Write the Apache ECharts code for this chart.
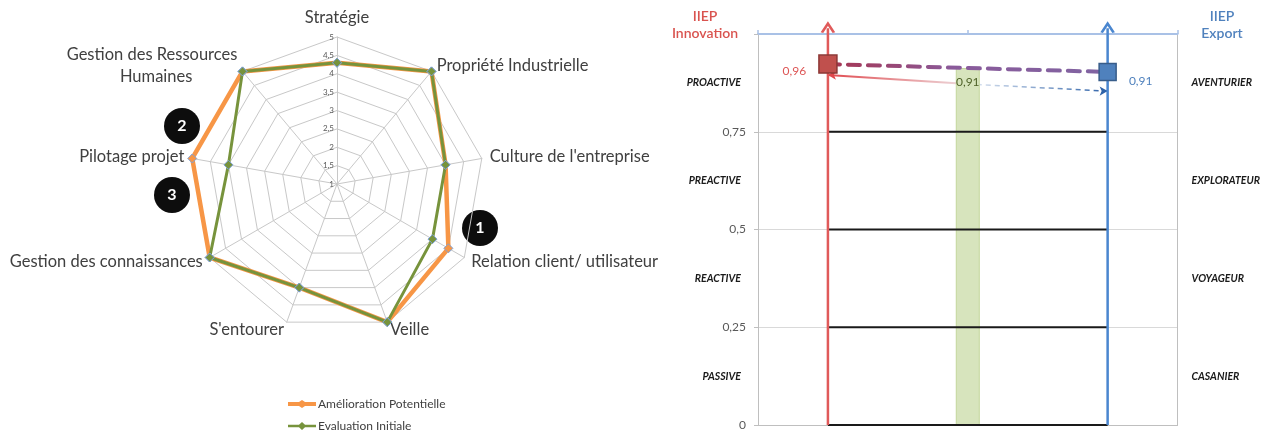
<!DOCTYPE html>
<html>
<head>
<meta charset="utf-8">
<title>IIEP</title>
<script src="https://cdn.jsdelivr.net/npm/echarts@6/dist/echarts.min.js"></script>
<style>
  html, body { margin: 0; padding: 0; background: #fff; }
  #chart { width: 1263px; height: 432px; }
</style>
</head>
<body>
<div id="chart"></div>
<script>
// --- radar : axes dans le sens horaire, à partir du haut
const radarAxes = ['Stratégie', 'Propriété Industrielle', "Culture de l'entreprise", 'Relation client/ utilisateur',
  'Veille', "S'entourer", 'Gestion des connaissances', 'Pilotage projet', 'Gestion des Ressources\nHumaines']
const radarMin = 1
const radarMax = 5
const ameliorationPotentielle = [4.3, 5, 4, 4.5, 5, 4, 5, 5, 5]
const evaluationInitiale = [4.3, 5, 4, 4, 5, 4, 5, 4, 5]

// --- positionnement IIEP
const positions = ['IIEP Innovation', 'Bilan', 'IIEP Export']
const bandLevels = [0, 0.25, 0.5, 0.75]
const innovationProfiles = ['PASSIVE', 'REACTIVE', 'PREACTIVE', 'PROACTIVE']
const exportProfiles = ['CASANIER', 'VOYAGEUR', 'EXPLORATEUR', 'AVENTURIER']
const innovationScore = 0.923
const innovationLabel = '0,96'
const exportScore = 0.903
const exportLabel = '0,91'
const bilanScore = 0.913
const bilanLabel = '0,91'
const trend = [0.895, 0.872, 0.854]
const arrowTop = 1.015

const font = 'Lato, "Open Sans", sans-serif'
const fmt = v => String(v).replace('.', ',')
// echarts tourne dans le sens anti-horaire
const ccw = arr => [arr[0]].concat(arr.slice(1).reverse())

const profileLabel = names => v => {
  const k = Math.round(v * 8)
  return k % 2 === 1 ? names[(k - 1) / 2] : ''
}

const chart = echarts.init(document.getElementById('chart'))

const indicators = ccw(radarAxes).map((name, i) => {
  const ind = { name: name, min: radarMin, max: radarMax }
  if (i === 0) {
    ind.axisLabel = { show: true, fontSize: 8, color: '#595959', fontFamily: font, margin: 3, formatter: fmt }
  }
  return ind
})

const legendIcon = h => 'path://M0,' + (4 - h / 2) + 'L11,' + (4 - h / 2) + 'L14,0L17,' + (4 - h / 2) + 'L28,' + (4 - h / 2) +
  'L28,' + (4 + h / 2) + 'L17,' + (4 + h / 2) + 'L14,8L11,' + (4 + h / 2) + 'L0,' + (4 + h / 2) + 'Z'

const profileText = {
  fontSize: 10.5, fontStyle: 'italic', fontWeight: 'bold', color: '#1a1a1a', fontFamily: font
}

const option = {
  backgroundColor: '#fff',
  animation: false,
  textStyle: { fontFamily: font },
  legend: {
    orient: 'vertical',
    left: 288,
    top: 398,
    padding: 0,
    itemGap: 10,
    itemWidth: 28,
    itemHeight: 8,
    itemStyle: { borderWidth: 0 },
    textStyle: { fontSize: 12, color: '#404040', fontFamily: font, padding: [0, 0, 0, -3] },
    data: [
      { name: 'Amélioration Potentielle', icon: legendIcon(4) },
      { name: 'Evaluation Initiale', icon: legendIcon(2.5) }
    ]
  },
  radar: {
    center: [337, 184],
    radius: 147,
    startAngle: 90,
    shape: 'polygon',
    splitNumber: 8,
    axisNameGap: 8,
    axisName: {
      color: '#404040', fontSize: 16.5, fontFamily: font, lineHeight: 22,
      formatter: name => {
        const parts = name.split('\n')
        return parts.length > 1 ? parts[0] + '\n{h|' + parts[1] + '}' : name
      },
      rich: { h: { color: '#404040', fontSize: 16.5, fontFamily: font, lineHeight: 22, padding: [0, 45, 0, 0] } }
    },
    splitLine: { lineStyle: { color: '#c8c8c8', width: 1 } },
    splitArea: { show: false },
    axisLine: { lineStyle: { color: '#c8c8c8', width: 1 } },
    axisLabel: { show: false },
    indicator: indicators
  },
  grid: { left: 758, right: 84, top: 34, bottom: 7, containLabel: false },
  xAxis: [
    {
      type: 'category',
      data: positions,
      boundaryGap: true,
      axisLine: { onZero: false, lineStyle: { color: '#bfbfbf' } },
      axisTick: { show: false },
      axisLabel: { show: false }
    },
    {
      type: 'category',
      position: 'top',
      data: ['', ''],
      boundaryGap: true,
      axisLine: { onZero: false, lineStyle: { color: '#a9c1e6', width: 2 } },
      axisTick: { show: true, length: 4, lineStyle: { color: '#a9c1e6', width: 1.5 } },
      axisLabel: { show: false }
    }
  ],
  yAxis: [
    {
      type: 'value',
      min: 0,
      max: 1,
      interval: 0.25,
      axisLine: { show: true, onZero: false, lineStyle: { color: '#bfbfbf' } },
      axisTick: { show: true, length: 4, lineStyle: { color: '#bfbfbf' } },
      splitLine: { lineStyle: { color: '#d9d9d9' } },
      axisLabel: {
        margin: 12, fontSize: 12, color: '#595959', fontFamily: font,
        formatter: v => (v >= 1 ? '' : fmt(v))
      }
    },
    {
      type: 'value',
      position: 'left',
      offset: 0,
      min: 0,
      max: 1,
      interval: 0.125,
      axisLine: { show: false },
      axisTick: { show: false },
      splitLine: { show: false },
      axisLabel: Object.assign({ margin: 17, align: 'right', formatter: profileLabel(innovationProfiles) }, profileText)
    },
    {
      type: 'value',
      position: 'right',
      offset: 0,
      min: 0,
      max: 1,
      interval: 0.125,
      axisLine: { show: true, onZero: false, lineStyle: { color: '#bfbfbf' } },
      axisTick: { show: false },
      splitLine: { show: false },
      axisLabel: Object.assign({ margin: 14, align: 'left', formatter: profileLabel(exportProfiles) }, profileText)
    }
  ],
  graphic: [
    { type: 'circle', shape: { cx: 480, cy: 228, r: 18 }, style: { fill: '#0d0d0d' } },
    { type: 'circle', shape: { cx: 182, cy: 126, r: 18 }, style: { fill: '#0d0d0d' } },
    { type: 'circle', shape: { cx: 172, cy: 195, r: 18 }, style: { fill: '#0d0d0d' } },
    { type: 'text', x: 480, y: 228, style: { text: '1', fill: '#fff', fontSize: 16, fontWeight: 'bold', fontFamily: font, textAlign: 'center', textVerticalAlign: 'middle' } },
    { type: 'text', x: 182, y: 126, style: { text: '2', fill: '#fff', fontSize: 16, fontWeight: 'bold', fontFamily: font, textAlign: 'center', textVerticalAlign: 'middle' } },
    { type: 'text', x: 172, y: 195, style: { text: '3', fill: '#fff', fontSize: 16, fontWeight: 'bold', fontFamily: font, textAlign: 'center', textVerticalAlign: 'middle' } },
    { type: 'text', x: 705, y: 8, style: { text: 'IIEP\nInnovation', fill: '#d9534f', fontSize: 14, fontWeight: 600, lineHeight: 17, fontFamily: font, textAlign: 'center' } },
    { type: 'text', x: 1222, y: 8, style: { text: 'IIEP\nExport', fill: '#4f81bd', fontSize: 14, fontWeight: 600, lineHeight: 17, fontFamily: font, textAlign: 'center' } }
  ],
  series: [
    {
      type: 'radar',
      symbol: 'diamond',
      symbolSize: 9,
      data: [
        {
          name: 'Amélioration Potentielle',
          value: ccw(ameliorationPotentielle),
          lineStyle: { color: '#f79646', width: 4.5 },
          itemStyle: { color: '#f79646', borderColor: '#7da2d8', borderWidth: 1 }
        },
        {
          name: 'Evaluation Initiale',
          value: ccw(evaluationInitiale),
          lineStyle: { color: '#77933c', width: 3 },
          itemStyle: { color: '#77933c', borderColor: '#7da2d8', borderWidth: 1 }
        }
      ]
    },
    // trait fin : innovation -> bilan
    {
      type: 'line',
      z: 1,
      symbol: 'none',
      data: [
        { value: [0, trend[0]], symbol: 'arrow', symbolSize: [7, 8], symbolRotate: 90, itemStyle: { color: '#e0474c' } },
        [1, trend[1]]
      ],
      lineStyle: {
        width: 2,
        color: new echarts.graphic.LinearGradient(0, 0, 1, 0, [
          { offset: 0, color: '#e0474c' },
          { offset: 1, color: '#eee0e3' }
        ])
      }
    },
    // trait pointillé : bilan -> export
    {
      type: 'line',
      z: 1,
      symbol: 'none',
      data: [
        [1, trend[1]],
        { value: [2, trend[2]], symbol: 'arrow', symbolSize: [7, 8], symbolRotate: -90, itemStyle: { color: '#2e62a8' } }
      ],
      lineStyle: {
        width: 1.5,
        type: [5, 4],
        color: new echarts.graphic.LinearGradient(0, 0, 1, 0, [
          { offset: 0, color: '#e4eaf4' },
          { offset: 1, color: '#2e62a8' }
        ])
      }
    },
    {
      type: 'bar',
      z: 2,
      barWidth: 24,
      data: ['-', bilanScore, '-'],
      itemStyle: { color: '#d7e4bd', borderColor: '#c3d69b', borderWidth: 1 },
      label: {
        show: true, position: 'insideTop', distance: 8, color: '#4f6228', fontSize: 12,
        fontFamily: font, formatter: () => bilanLabel
      }
    },
    ...bandLevels.map(v => ({
      type: 'line',
      z: 3,
      symbol: 'none',
      data: [[0, v], [2, v]],
      lineStyle: { color: '#1a1a1a', width: 2 }
    })),
    {
      type: 'line',
      z: 4,
      clip: false,
      symbol: 'none',
      data: [
        [0, 0],
        { value: [0, arrowTop], symbol: 'path://M0,10L6,0L12,10', symbolSize: [12, 9],
          itemStyle: { color: 'rgba(0,0,0,0)', borderColor: '#e05a5a', borderWidth: 2.5 } }
      ],
      lineStyle: { color: '#e05a5a', width: 2.5 }
    },
    {
      type: 'line',
      z: 4,
      clip: false,
      symbol: 'none',
      data: [
        [2, 0],
        { value: [2, arrowTop], symbol: 'path://M0,10L6,0L12,10', symbolSize: [12, 9],
          itemStyle: { color: 'rgba(0,0,0,0)', borderColor: '#4a86cf', borderWidth: 2.5 } }
      ],
      lineStyle: { color: '#4a86cf', width: 2.5 }
    },
    // liaison des deux scores
    {
      type: 'line',
      z: 5,
      symbol: 'none',
      data: [[0, innovationScore], [2, exportScore]],
      lineStyle: {
        width: 4,
        type: [12, 8],
        cap: 'round',
        color: new echarts.graphic.LinearGradient(0, 0, 1, 0, [
          { offset: 0, color: '#a8344f' },
          { offset: 0.45, color: '#8a5a9a' },
          { offset: 1, color: '#8064a2' }
        ])
      }
    },
    {
      type: 'scatter',
      z: 6,
      symbol: 'rect',
      symbolSize: 18,
      data: [[0, innovationScore]],
      itemStyle: { color: '#c0504d', borderColor: '#8c3836', borderWidth: 1.5, opacity: 1 },
      label: {
        show: true, position: 'left', distance: 12, offset: [0, 7], color: '#dd5555',
        fontSize: 12, fontFamily: font, formatter: () => innovationLabel
      }
    },
    {
      type: 'scatter',
      z: 6,
      symbol: 'rect',
      symbolSize: 17,
      data: [[2, exportScore]],
      itemStyle: { color: '#4f81bd', borderColor: '#385d8a', borderWidth: 1.5, opacity: 1 },
      label: {
        show: true, position: 'right', distance: 12, offset: [0, 9], color: '#4f81bd',
        fontSize: 12, fontFamily: font, formatter: () => exportLabel
      }
    }
  ]
}

chart.setOption(option)
</script>
</body>
</html>
